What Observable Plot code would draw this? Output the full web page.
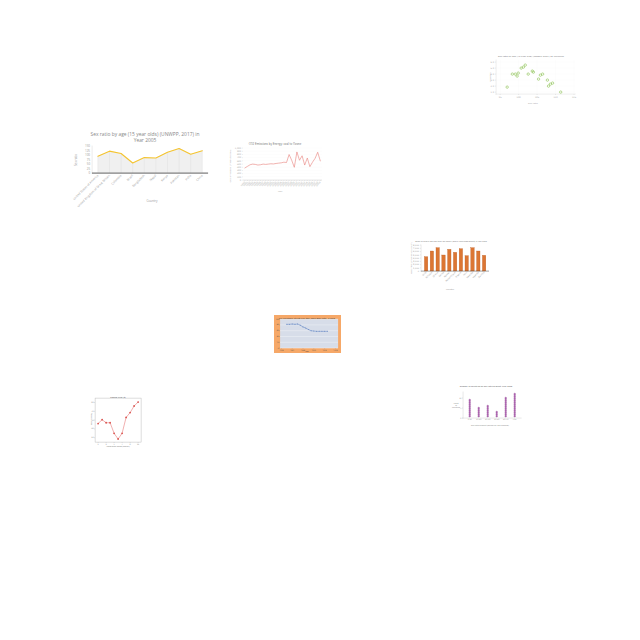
<!DOCTYPE html>
<html><head><meta charset="utf-8">
<script src="https://cdn.jsdelivr.net/npm/d3@7"></script>
<script src="https://cdn.jsdelivr.net/npm/@observablehq/plot@0.6"></script>
<style>
body{margin:0;background:#fff;font-family:"Open Sans",sans-serif;}
#wrap{position:relative;width:640px;height:640px;overflow:hidden;background:#fff;}
.t{position:absolute;white-space:nowrap;line-height:1.2;text-align:center;}
</style></head><body><div id="wrap"></div>
<script>
// ---- Chart 1: sex ratio line (Year 2005)
const c1Countries = ["United States of America","United Kingdom of Great Britain","Colombia","Brazil","Bangladesh","Nepal","Kenya","Pakistan","India","China"];
const c1Ratio = [94, 122, 109, 56, 86, 84, 116, 137, 105, 124];
const c1Ticks = [0, 25, 50, 75, 100, 125, 150];

// ---- Chart 2: CO2 emissions line
const c2Years = ["1990","1991","1992","1993","1994","1995","1996","1997","1998","1999","2000","2001","2002","2003","2004","2005","2006","2007","2008","2009","2010","2011","2012","2013","2014","2015","2016","2017","2018","2019"];
const c2Values = [380, 430, 480, 500, 490, 470, 480, 500, 490, 500, 510, 505, 520, 530, 540, 560, 550, 800, 620, 400, 880, 620, 760, 470, 690, 420, 560, 680, 870, 600];

// ---- Chart 3: scatter (sex ratio 40 year olds vs children)
const c3SexRatio = [96.9, 98.3, 99.1, 99.9, 99.6, 100.7, 101.3, 101.8, 102.6, 103.7, 104.0, 105.4, 105.9, 106.5, 107.8, 108.1, 108.6, 109.2, 111.4];
const c3Children = [1.83, 4.0, 4.0, 4.17, 3.67, 5.0, 5.17, 5.5, 4.0, 4.5, 4.33, 3.17, 3.83, 4.0, 3.0, 2.0, 2.33, 2.5, 1.0];

// ---- Chart 4: orange bars
const c4Countries = ["Chile","Ethiopia","Ghana","Kenya","Malawi","Mozambique","Nigeria","Peru","Rwanda","Uganda","Zambia"];
const c4Values = [4400, 6150, 7170, 4920, 6670, 5750, 6860, 4710, 7170, 6150, 4830];

// ---- Chart 5: dashed blue line in orange box
const c5Years = [2000,2001,2002,2003,2004,2005,2006,2007,2008,2009,2010,2011,2012,2013,2014,2015];
const c5Values = [82, 82, 83, 82, 83, 79, 73, 69, 64, 60, 59, 58, 58, 58, 58, 58];

// ---- Chart 6: line with red markers
const c6X = [1,2,3,4,5,6,7,8,9,10,11];
const c6Y = [42, 51, 44, 44, 20, 7, 20, 56, 67, 82, 91];

// ---- Chart 7: purple dot columns
const c7Groups = ["0-10","10-20","20-30","30-40","40-50","50+"];
const c7Counts = [9, 5, 6, 3, 10, 12];

const S = 5; // draw large, then shrink (avoids minimum font size)
const wrap = document.getElementById("wrap");
function plotAt(o, left, top) {
  const w = o.width, h = o.height;
  const opts = Object.assign({}, o, {
    width: w * S, height: h * S,
    marginLeft: o.marginLeft * S, marginRight: o.marginRight * S,
    marginTop: o.marginTop * S, marginBottom: o.marginBottom * S
  });
  const svg = Plot.plot(opts);
  svg.style.position = "absolute";
  svg.style.left = left + "px";
  svg.style.top = top + "px";
  svg.style.width = w + "px";
  svg.style.height = h + "px";
  svg.style.maxWidth = "none";
  wrap.appendChild(svg);
}
function fs(px) { return (px * S) + "px"; }
function txt(s, x, y, size, color, rot = 0, weight = 400, family) {
  const d = document.createElement("div");
  d.className = "t";
  d.innerHTML = s;
  d.style.left = x + "px";
  d.style.top = y + "px";
  d.style.fontSize = (size * S) + "px";
  d.style.color = color;
  d.style.fontWeight = weight;
  if (family) d.style.fontFamily = family;
  d.style.transform = `translate(-50%,-50%) rotate(${rot}deg) scale(${1 / S})`;
  wrap.appendChild(d);
}

// Chart 1
const c1Data = c1Countries.map((c, i) => ({country: c, ratio: c1Ratio[i]}));
plotAt({
  width: 150, height: 62, marginLeft: 22, marginRight: 12, marginTop: 3, marginBottom: 32,
  style: {background: "transparent", fontSize: fs(3), color: "#999", fontFamily: "Open Sans", overflow: "visible"},
  x: {type: "point", domain: c1Countries, padding: 0.45, tickRotate: -45, label: null, tickSize: 0, tickPadding: 2 * S, line: true},
  y: {domain: [0, 150], ticks: c1Ticks, label: null, tickSize: 0, tickPadding: 2 * S, line: true},
  marks: [
    Plot.areaY(c1Data, {x: "country", y: "ratio", fill: "#ececec", fillOpacity: 0.8}),
    Plot.ruleX(c1Data, {x: "country", y1: 0, y2: "ratio", stroke: "#dcdcdc", strokeWidth: 0.4 * S}),
    Plot.lineY(c1Data, {x: "country", y: "ratio", stroke: "#f4c430", strokeWidth: 1.1 * S}),
    Plot.ruleY([0], {stroke: "#444", strokeWidth: 0.8 * S})
  ]
}, 70, 143);
txt("Sex ratio by age (15 year olds) (UNWPP, 2017) in<br>Year 2005", 145, 136.5, 4.9, "#888", 0, 400, "Open Sans");
txt("Country", 152, 201, 3, "#999", 0, 400, "Open Sans");
txt("Sex ratio", 76, 160, 3, "#999", -90, 400, "Open Sans");

// Chart 2
const c2Data = c2Years.map((y, i) => ({year: y, value: c2Values[i]}));
plotAt({
  width: 100, height: 50, marginLeft: 18, marginRight: 3, marginTop: 2, marginBottom: 16,
  style: {background: "transparent", fontSize: fs(2.2), color: "#aaa", fontFamily: "DejaVu Sans", overflow: "visible"},
  x: {type: "point", domain: c2Years, tickRotate: -45, label: null, tickSize: 1 * S, tickPadding: 1 * S, padding: 0.1},
  y: {domain: [0, 1000], ticks: d3.range(0, 1001, 100), label: null, tickSize: 1 * S, tickPadding: 1 * S, grid: true},
  marks: [
    Plot.ruleY([0], {stroke: "#ccc", strokeWidth: 0.5 * S}),
    Plot.lineY(c2Data, {x: "year", y: "value", stroke: "#e8807a", strokeWidth: 0.6 * S})
  ]
}, 225, 146);
txt("CO2 Emissions by Energy: coal to Ozone", 275, 144, 2.6, "#777", 0, 400, "DejaVu Sans");
txt("Year", 280, 191, 2.2, "#aaa", 0, 400, "DejaVu Sans");
txt("CO2 emissions (million tonnes)", 230, 166, 2.1, "#aaa", -90, 400, "DejaVu Sans");

// Chart 3
const c3Data = c3SexRatio.map((x, i) => ({x, y: c3Children[i]}));
plotAt({
  width: 96, height: 48, marginLeft: 12, marginRight: 5, marginTop: 2, marginBottom: 12,
  style: {background: "transparent", fontSize: fs(2.2), color: "#aaa", fontFamily: "DejaVu Sans", overflow: "visible"},
  x: {domain: [93.9, 115.3], ticks: [95, 100, 105, 110, 115], label: null, tickSize: 1 * S, tickPadding: 1.5 * S, grid: true, line: true},
  y: {domain: [0.667, 6.333], ticks: [1, 2, 3, 4, 5, 6], label: null, tickSize: 1 * S, tickPadding: 1 * S, grid: true, line: true},
  marks: [
    Plot.dot(c3Data, {x: "x", y: "y", r: 1.2 * S, stroke: "#8cc152", strokeWidth: 0.6 * S, fill: "none"})
  ]
}, 484, 58);
txt("Sex ratio by age (40 year olds) (UNWPP, 2017) vs Childeren", 531, 56, 2.2, "#777", 0, 400, "DejaVu Sans");
txt("Sex ratio", 533, 103, 2.2, "#aaa", 0, 400, "DejaVu Sans");
txt("Children", 490, 77, 2.2, "#aaa", -90, 400, "DejaVu Sans");

// Chart 4
const c4Data = c4Countries.map((c, i) => ({country: c, value: c4Values[i]}));
plotAt({
  width: 85, height: 42, marginLeft: 13, marginRight: 4, marginTop: 2, marginBottom: 14,
  style: {background: "transparent", fontSize: fs(2.1), color: "#999", fontFamily: "DejaVu Sans", overflow: "visible"},
  x: {domain: c4Countries, padding: 0.42, tickRotate: -45, label: null, tickSize: 0, tickPadding: 1 * S},
  y: {domain: [0, 8000], ticks: d3.range(0, 8001, 1000), label: null, tickSize: 1 * S, tickPadding: 1 * S, line: true},
  marks: [
    Plot.barY(c4Data, {x: "country", y: "value", fill: "#dc7633", stroke: "#b9581c", strokeWidth: 0.3 * S}),
    Plot.ruleY([0], {stroke: "#444", strokeWidth: 0.5 * S})
  ]
}, 408, 243);
txt("Share of people who say they are happy (World Happiness Report) in Year 2005", 451, 241, 1.8, "#777", 0, 400, "DejaVu Sans");
txt("Country", 450, 289, 2.1, "#999", 0, 400, "DejaVu Sans");
txt("Happiness (share of population)", 411, 258, 2, "#999", -90, 400, "DejaVu Sans");

// Chart 5
const box = document.createElement("div");
Object.assign(box.style, {position: "absolute", left: "274px", top: "315px", width: "67px", height: "38px", background: "#f6a868"});
wrap.appendChild(box);
const c5Data = c5Years.map((y, i) => ({year: y, value: c5Values[i]}));
plotAt({
  width: 67, height: 38, marginLeft: 6, marginRight: 3, marginTop: 4, marginBottom: 5,
  style: {background: "transparent", fontSize: fs(1.6), color: "#444", fontFamily: "DejaVu Sans", overflow: "visible"},
  x: {domain: [1997.5, 2019], ticks: [1998, 2002, 2006, 2010, 2014, 2018], tickFormat: d => String(d), label: null, tickSize: 0.8 * S, tickPadding: 0.6 * S},
  y: {domain: [0, 100], ticks: [0, 20, 40, 60, 80, 100], label: null, tickSize: 0.8 * S, tickPadding: 0.6 * S},
  marks: [
    Plot.frame({fill: "#d7dde9", stroke: "none"}),
    Plot.gridY({stroke: "#fff", strokeOpacity: 0.8, strokeWidth: 0.4 * S}),
    Plot.lineY(c5Data, {x: "year", y: "value", stroke: "#6a8cc6", strokeWidth: 0.6 * S, strokeDasharray: `${1.2 * S},${0.8 * S}`}),
    Plot.dot(c5Data, {x: "year", y: "value", r: 0.5 * S, fill: "#6a8cc6"})
  ]
}, 274, 315);
txt("Life expectancy at birth over time (World Bank data), in years", 307, 317.5, 1.8, "#333", 0, 400, "DejaVu Sans");
txt("Year", 307, 352, 1.6, "#333", 0, 400, "DejaVu Sans");

// Chart 6
const c6Data = c6X.map((x, i) => ({x, y: c6Y[i]}));
plotAt({
  width: 58, height: 55, marginLeft: 10, marginRight: 2, marginTop: 5, marginBottom: 6,
  style: {background: "transparent", fontSize: fs(1.8), color: "#777", fontFamily: "DejaVu Sans", overflow: "visible"},
  x: {domain: [0.25, 11.75], ticks: [1, 3, 5, 7, 9, 11], label: null, tickSize: 1 * S, tickPadding: 0.5 * S},
  y: {domain: [0, 100], ticks: [10, 30, 50, 70, 90], label: null, tickSize: 1 * S, tickPadding: 0.5 * S},
  marks: [
    Plot.frame({stroke: "#bbb", strokeWidth: 0.5 * S}),
    Plot.lineY(c6Data, {x: "x", y: "y", stroke: "#e77b7b", strokeWidth: 0.6 * S}),
    Plot.dot(c6Data, {x: "x", y: "y", r: 0.9 * S, fill: "#d9534f"})
  ]
}, 85, 393);
txt("Kenya CO2 (t)", 118, 397, 2.2, "#444", 0, 400, "DejaVu Sans");
txt("Years since 2008 (annual)", 118, 446, 1.8, "#777", 0, 400, "DejaVu Sans");
txt("CO2 (tonnes)", 91, 419, 1.8, "#777", -90, 400, "DejaVu Sans");

// Chart 7
const c7Data = c7Groups.flatMap((g, i) => d3.range(1, c7Counts[i] + 1).map(k => ({group: g, k})));
plotAt({
  width: 74, height: 36, marginLeft: 13, marginRight: 3, marginTop: 4, marginBottom: 6,
  style: {background: "transparent", fontSize: fs(1.8), color: "#888", fontFamily: "DejaVu Sans", overflow: "visible"},
  x: {type: "point", domain: c7Groups, padding: 0.7, label: null, tickSize: 0, tickPadding: 1 * S, line: true},
  y: {domain: [0, 13], ticks: [0, 5, 10], label: null, tickSize: 1 * S, tickPadding: 0.6 * S, line: true},
  marks: [
    Plot.dot(c7Data, {x: "group", y: "k", r: 0.9 * S, fill: "#b565b8", stroke: "#7a2a7d", strokeWidth: 0.3 * S})
  ]
}, 450, 388);
txt("Number of countries by sex ratio bracket, year 2005", 486, 386, 2, "#555", 0, 400, "DejaVu Sans");
txt("Sex ratio bracket (males per 100 females)", 490, 425, 1.8, "#888", 0, 400, "DejaVu Sans");
txt("Count<br>of<br>countries", 456, 405, 1.7, "#888", 0, 400, "DejaVu Sans");
</script></body></html>
